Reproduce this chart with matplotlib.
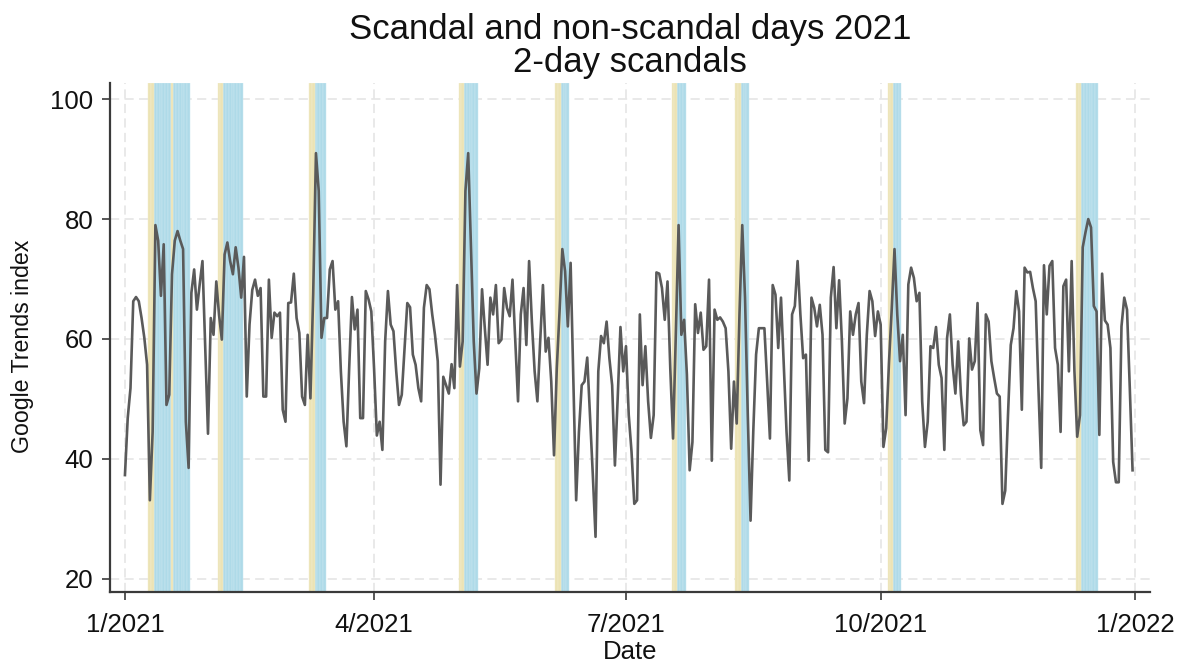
import datetime as dt
import matplotlib
matplotlib.use("Agg")
import matplotlib.pyplot as plt
import matplotlib.dates as mdates
import numpy as np

plt.rcParams['font.family'] = ['Liberation Sans', 'DejaVu Sans']

start_date = dt.date(2021, 1, 1)

# Daily Google Trends index, 1 Jan 2021 .. 31 Dec 2021
trend_values = [
    37.3, 46.8, 51.8, 66.3, 67.0, 66.3, 63.5, 60.2, 55.7, 33.1,
    44.5, 79.0, 76.4, 67.2, 75.8, 49.0, 50.7, 70.8, 76.4, 78.0,
    76.4, 75.0, 46.2, 38.5, 67.7, 71.6, 64.9, 69.1, 73.0, 58.5,
    44.2, 63.5, 60.7, 69.6, 64.0, 59.9, 74.1, 76.1, 73.0, 70.8,
    75.3, 71.9, 66.9, 73.7, 50.4, 62.4, 68.2, 69.9, 67.2, 68.5,
    50.4, 50.4, 69.9, 60.2, 64.4, 63.8, 64.4, 48.2, 46.2, 66.0,
    66.1, 70.9, 63.5, 61.0, 50.4, 49.0, 60.7, 50.1, 67.4, 91.0,
    84.7, 60.2, 63.5, 63.5, 71.6, 73.0, 64.9, 66.3, 54.6, 46.2,
    42.1, 55.1, 67.0, 61.6, 64.9, 46.8, 46.8, 68.0, 66.6, 64.6,
    55.0, 43.9, 46.2, 41.5, 59.6, 68.0, 62.4, 61.3, 54.6, 49.0,
    50.7, 58.5, 66.0, 65.3, 57.4, 55.7, 51.8, 49.6, 65.2, 69.0,
    68.3, 64.1, 60.7, 56.3, 35.7, 53.7, 52.3, 50.9, 55.8, 51.8,
    69.0, 55.4, 59.6, 84.7, 91.0, 75.3, 59.6, 50.9, 55.1, 68.3,
    61.8, 55.7, 66.9, 64.1, 69.0, 59.3, 59.9, 68.5, 65.2, 63.8,
    69.9, 59.6, 49.6, 64.1, 68.5, 59.0, 73.0, 62.9, 54.6, 49.6,
    59.6, 69.0, 57.9, 60.2, 52.9, 40.6, 55.1, 64.6, 75.0, 71.3,
    62.1, 72.7, 52.9, 33.1, 44.5, 52.3, 52.9, 56.9, 47.3, 37.5,
    27.0, 54.6, 60.5, 59.3, 62.9, 56.8, 52.3, 38.9, 50.1, 62.0,
    54.6, 58.8, 47.3, 41.2, 32.5, 33.1, 64.1, 52.3, 58.8, 49.6,
    43.5, 47.3, 71.1, 70.9, 68.5, 63.2, 69.6, 55.1, 43.4, 60.7,
    79.0, 60.7, 63.2, 54.1, 38.1, 42.8, 65.8, 61.0, 64.4, 58.2,
    58.8, 69.9, 39.7, 64.9, 63.2, 63.6, 62.9, 61.8, 54.6, 41.7,
    52.9, 45.9, 64.1, 79.0, 66.9, 47.3, 29.7, 44.8, 57.4, 61.8,
    61.8, 61.8, 52.9, 43.4, 69.0, 67.4, 58.5, 66.9, 55.7, 44.5,
    36.4, 64.1, 65.5, 73.0, 64.1, 56.8, 57.4, 39.7, 66.9, 65.2,
    62.1, 65.7, 60.7, 41.5, 41.1, 66.9, 72.0, 61.8, 69.8, 59.6,
    45.9, 50.1, 64.6, 60.7, 64.1, 66.0, 52.9, 49.3, 60.7, 68.0,
    66.3, 60.5, 64.6, 62.4, 42.0, 45.1, 56.0, 65.0, 75.0, 64.1,
    56.3, 60.7, 47.3, 69.1, 71.9, 70.2, 66.3, 67.7, 49.6, 42.0,
    46.2, 58.8, 58.5, 62.0, 55.7, 53.5, 41.5, 60.2, 64.1, 55.7,
    50.9, 59.6, 50.7, 45.6, 46.2, 60.1, 54.9, 56.3, 66.0, 44.8,
    42.3, 64.1, 62.9, 56.3, 53.5, 50.9, 50.4, 32.5, 34.7, 47.3,
    59.0, 61.8, 68.0, 64.6, 48.2, 71.9, 71.1, 71.2, 68.5, 66.3,
    51.8, 38.5, 72.3, 64.1, 72.2, 73.0, 58.5, 55.7, 44.5, 68.8,
    69.9, 54.6, 73.0, 54.6, 43.7, 47.3, 75.3, 77.8, 80.0, 78.6,
    65.5, 64.6, 44.0, 70.9, 63.1, 62.4, 58.5, 39.5, 36.1, 36.1,
    62.1, 66.9, 64.9, 51.8, 38.1,
]

# Day-of-year offsets (0 = 1 Jan 2021)
scandal_days = [9, 10, 17, 34, 35, 67, 68, 121, 122, 156, 157,
                198, 199, 221, 222, 276, 277, 344, 345]
post_scandal_days = [11, 12, 13, 14, 15, 16, 18, 19, 20, 21, 22, 23,
                     36, 37, 38, 39, 40, 41, 42,
                     69, 70, 71, 72,
                     123, 124, 125, 126, 127,
                     158, 159, 160,
                     200, 201, 202,
                     223, 224, 225,
                     278, 279, 280,
                     346, 347, 348, 349, 350, 351]

tick_dates = [dt.date(2021, 1, 1), dt.date(2021, 4, 1), dt.date(2021, 7, 1),
              dt.date(2021, 10, 1), dt.date(2022, 1, 1)]
tick_labels = ["1/2021", "4/2021", "7/2021", "10/2021", "1/2022"]
y_ticks = [20, 40, 60, 80, 100]

title_line1 = "Scandal and non-scandal days 2021"
title_line2 = "2-day scandals"

# ---------------------------------------------------------------
base = mdates.date2num(start_date)
dates = base + np.arange(len(trend_values))

fig = plt.figure(figsize=(11.82, 6.65), dpi=100)
ax = fig.add_axes([110 / 1182, 1 - 592 / 665, 1040 / 1182, 509 / 665])

yellow = "#ECE3B4"
blue = "#AEDAE8"

ax.bar(base + np.array(post_scandal_days), 1, bottom=0, width=1.0,
       color=blue, edgecolor="#CBE8F1", linewidth=0.35,
       transform=ax.get_xaxis_transform(), zorder=2)
ax.bar(base + np.array(scandal_days), 1, bottom=0, width=1.0,
       color=yellow, edgecolor="#F3EDCF", linewidth=0.35,
       transform=ax.get_xaxis_transform(), zorder=2)

ax.plot(dates, trend_values, color="#5A5A5A", linewidth=1.9, zorder=3,
        solid_joinstyle="round")

ax.set_xlim(base - 5.4, base + 370.3)
ax.set_ylim(17.8, 102.7)

ax.set_xticks([mdates.date2num(d) for d in tick_dates])
ax.set_xticklabels(tick_labels)
ax.set_yticks(y_ticks)
ax.set_yticklabels([str(v) for v in y_ticks])

ax.grid(True, color="#E3E3E3", linewidth=1.1, linestyle=(0, (6, 3.5)), zorder=0)
ax.set_axisbelow(True)

for side in ("top", "right"):
    ax.spines[side].set_visible(False)
for side in ("left", "bottom"):
    ax.spines[side].set_color("#3A3A3A")
    ax.spines[side].set_linewidth(1.6)
    ax.spines[side].set_zorder(4)

ax.tick_params(axis="both", direction="out", length=6, width=1.2,
               color="#3A3A3A", labelsize=18.5, labelcolor="#111111")
ax.tick_params(axis="x", pad=9)
ax.tick_params(axis="y", pad=6)

ax.set_xlabel("Date", fontsize=18.5, color="#111111")
ax.xaxis.set_label_coords(0.5, -0.118)
ax.xaxis.label.set_va("center")
ax.set_ylabel("Google Trends index", fontsize=16.7, color="#111111")
ax.yaxis.set_label_coords(-0.0846, 0.483)
ax.yaxis.label.set_va("center")

cx = (110 + 1150) / 2 / 1182
fig.text(cx, 1 - 39 / 665, title_line1, ha="center", va="baseline",
         fontsize=25, color="#111111")
fig.text(cx, 1 - 72 / 665, title_line2, ha="center", va="baseline",
         fontsize=25, color="#111111")

fig.savefig("out.png", dpi=100, facecolor="white")
